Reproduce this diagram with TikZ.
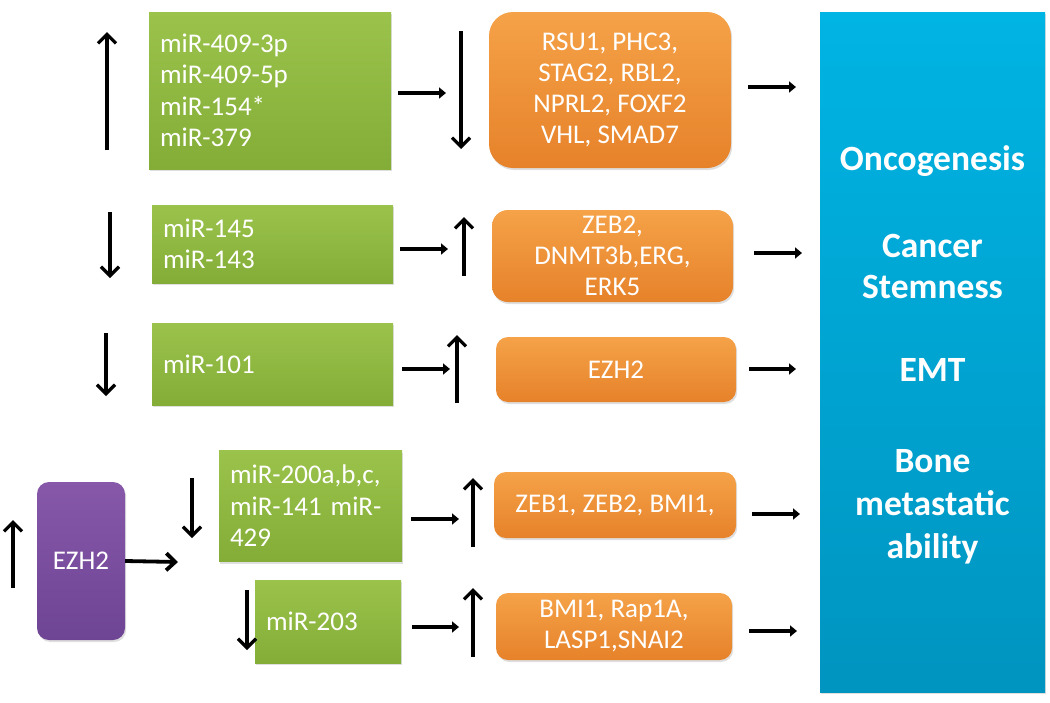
\documentclass[tikz,border=0pt]{standalone}
\usepackage{fontspec}
\setmainfont{Carlito}
\usetikzlibrary{arrows.meta,shadows}
\definecolor{greenT}{HTML}{9BC34C}
\definecolor{greenB}{HTML}{83AD37}
\definecolor{orangeT}{HTML}{F5A248}
\definecolor{orangeB}{HTML}{E6822A}
\definecolor{purpT}{HTML}{8758AA}
\definecolor{purpB}{HTML}{6E4494}
\definecolor{blueT}{HTML}{00B4E3}
\definecolor{blueB}{HTML}{0094C0}
\tikzset{
  shad/.style={drop shadow={opacity=0.25,shadow xshift=1.2pt,shadow yshift=-2pt}},
  mirbox/.style={shad,rectangle,top color=greenT,bottom color=greenB,text=white,
    font=\fontsize{27}{31.5}\selectfont,align=left,inner xsep=11pt,inner ysep=0pt},
  genebox/.style={shad,rectangle,top color=orangeT,bottom color=orangeB,text=white,
    font=\fontsize{27}{31}\selectfont,align=center,inner sep=0pt},
  ezhbox/.style={shad,rectangle,rounded corners=12pt,top color=purpT,bottom color=purpB,text=white,
    font=\fontsize{27}{31}\selectfont,inner sep=0pt},
  outbox/.style={shad,rectangle,top color=blueT,bottom color=blueB,inner sep=0pt},
  outtext/.style={text=white,font=\fontsize{35.5}{43}\selectfont\bfseries,anchor=base,inner sep=0pt},
  harr/.style={line width=3.8pt,-{Triangle[length=7pt,width=11pt]}},
  varr/.style={line width=3.3pt,-{Straight Barb[length=9pt,width=18pt]}},
  bigarr/.style={line width=3.8pt,-{Straight Barb[length=9pt,width=17pt]}},
}
\begin{document}
\begin{tikzpicture}[x=1pt,y=-1pt]
\useasboundingbox[fill=white] (0,0) rectangle (1050,702);

% output box
\node[outbox,minimum width=225pt,minimum height=680pt] (out) at (932.5,352) {};
\node[outtext] (t1) at (932.5,170) {Oncogenesis};
\node[outtext] (t2) at (932.5,257) {Cancer};
\node[outtext] (t3) at (932.5,298) {Stemness};
\node[outtext] (t4) at (932.5,381) {EMT};
\node[outtext] (t5) at (932.5,472) {Bone};
\node[outtext] (t6) at (932.5,515) {metastatic};
\node[outtext] (t7) at (932.5,558) {ability};

% miRNA boxes
\node[mirbox,text width=220pt,minimum height=157pt] (g1) at (270,90.5)
  {miR-409-3p\\miR-409-5p\\miR-154*\\miR-379};
\node[mirbox,text width=219pt,minimum height=78pt] (g2) at (272.5,244)
  {miR-145\\miR-143};
\node[mirbox,text width=219pt,minimum height=82pt] (g3) at (272.5,364)
  {miR-101};
\node[mirbox,text width=161pt,minimum height=111pt] (g4) at (310.5,506)
  {miR-200a,b,c,\\miR-141 miR-\\429};
\node[mirbox,text width=124pt,minimum height=83pt] (g5) at (328,621.5)
  {miR-203};

% gene boxes
\node[genebox,rounded corners=24pt,minimum width=242pt,minimum height=156pt] (o1) at (610,90)
  {RSU1, PHC3,\\STAG2, RBL2,\\NPRL2, FOXF2\\VHL, SMAD7};
\node[genebox,rounded corners=16pt,minimum width=241pt,minimum height=92pt] (o2) at (612.5,256)
  {ZEB2,\\DNMT3b,ERG,\\ERK5};
\node[genebox,rounded corners=12pt,minimum width=240pt,minimum height=65pt] (o3) at (616,369.5)
  {EZH2};
\node[genebox,rounded corners=12pt,minimum width=242pt,minimum height=66pt] (o4) at (615,505)
  {ZEB1, ZEB2, BMI1,};
\node[genebox,rounded corners=12pt,minimum width=236pt,minimum height=67pt] (o5) at (614,626.5)
  {BMI1, Rap1A,\\LASP1,SNAI2};

% EZH2 box
\node[ezhbox,minimum width=88pt,minimum height=158pt] (ezh) at (81,561) {EZH2};

% up/down indicators
\draw[varr] (107,150) -- (107,32);
\draw[varr] (461,31) -- (461,149);
\draw[varr] (110,212) -- (110,278);
\draw[varr] (464,276) -- (464,217);
\draw[varr] (106,333) -- (106,396);
\draw[varr] (457,403) -- (457,335);
\draw[varr] (13,588) -- (13,520);
\draw[varr] (192,478) -- (192,538);
\draw[varr] (473,547) -- (473,478);
\draw[varr] (247,590) -- (247,650);
\draw[varr] (473,657) -- (473,588);

% horizontal arrows
\draw[harr] (398,93) -- (446,93);
\draw[harr] (400,249) -- (448,249);
\draw[harr] (402,369) -- (450,369);
\draw[harr] (411,519) -- (459,519);
\draw[harr] (412,627) -- (459,627);
\draw[harr] (748,87) -- (796,87);
\draw[harr] (754,253) -- (802,253);
\draw[harr] (749,369) -- (796,369);
\draw[harr] (752,514) -- (800,514);
\draw[harr] (749,631) -- (797,631);
\draw[bigarr] (ezh.east) -- (178,562);
\end{tikzpicture}
\end{document}
